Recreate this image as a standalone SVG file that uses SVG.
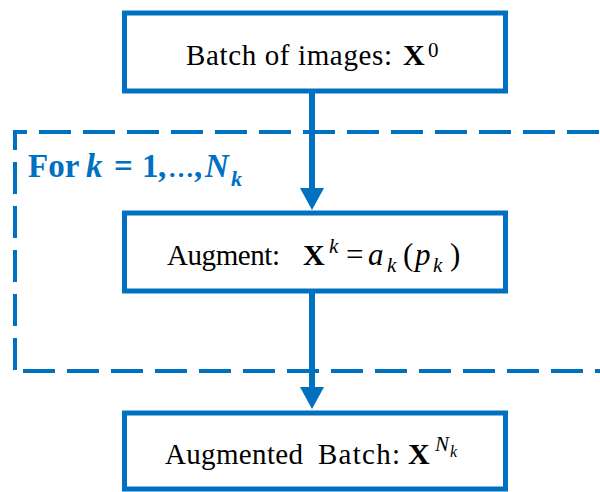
<svg xmlns="http://www.w3.org/2000/svg" width="600" height="492" viewBox="0 0 600 492">
<style>
.box{fill:#fff;stroke:#0070C0;stroke-width:5}
.dash{fill:none;stroke:#0070C0;stroke-width:4;stroke-dasharray:32 12}
.conn{stroke:#0070C0;stroke-width:6;fill:none}
.t{font-family:"Liberation Serif","Times New Roman",serif;font-size:29px;fill:#000}
.b{font-weight:bold;font-size:30px}
.i{font-style:italic}
.m{font-size:31px}
.s{font-size:21px}
.ss{font-size:16px}
.loop{font-family:"Liberation Serif","Times New Roman",serif;font-weight:bold;fill:#0070C0;font-size:33px}
</style>
<defs>
<marker id="ah" markerUnits="userSpaceOnUse" viewBox="0 0 22 24" markerWidth="22" markerHeight="24" refX="0" refY="12" orient="auto">
<path d="M0,0 L22,12 L0,24 Z" fill="#0070C0"/>
</marker>
</defs>
<g id="loop">
<line class="dash" x1="13" y1="132" x2="600" y2="132" style="stroke-dashoffset:18"/>
<line class="dash" x1="15" y1="130" x2="15" y2="373" style="stroke-dashoffset:12"/>
<line class="dash" x1="13" y1="371" x2="600" y2="371" style="stroke-dashoffset:34"/>
<text class="loop" y="177"><tspan x="28">For</tspan><tspan x="86" font-style="italic">k</tspan><tspan x="114">=</tspan><tspan x="142">1</tspan><tspan x="158">,</tspan><tspan x="168" font-size="26">…</tspan><tspan x="194">,</tspan><tspan x="205" font-style="italic">N</tspan><tspan x="231" y="186" font-style="italic" font-size="22">k</tspan></text>
</g>
<g id="node-batch">
<rect class="box" x="124.5" y="13" width="381" height="78"/>
<text class="t" y="65"><tspan x="186" textLength="206">Batch of images:</tspan><tspan x="403" class="b">X</tspan><tspan x="428" y="57" class="s">0</tspan></text>
</g>
<g id="node-augment">
<rect class="box" x="124.5" y="213" width="381" height="78"/>
<text class="t" y="265"><tspan x="167" textLength="113">Augment:</tspan><tspan x="303" class="b">X</tspan><tspan x="329" y="253" class="s i">k</tspan><tspan x="346" y="265" class="m">=</tspan><tspan x="368" class="i m">a</tspan><tspan x="387" y="272" class="s i">k</tspan><tspan x="403" y="265" class="m">(</tspan><tspan x="415" class="i m">p</tspan><tspan x="433" y="272" class="s i">k</tspan><tspan x="450" y="265" class="m">)</tspan></text>
</g>
<g id="node-result">
<rect class="box" x="124.5" y="413" width="381" height="76"/>
<text class="t" y="464"><tspan x="165" textLength="138">Augmented</tspan><tspan x="318" textLength="82">Batch:</tspan><tspan x="408" class="b">X</tspan><tspan x="435" y="451" class="s i">N</tspan><tspan x="450" y="457" class="ss i">k</tspan></text>
</g>
<g id="connectors">
<line class="conn" x1="312" y1="93" x2="312" y2="188" marker-end="url(#ah)"/>
<line class="conn" x1="312" y1="293" x2="312" y2="387" marker-end="url(#ah)"/>
</g>
</svg>
